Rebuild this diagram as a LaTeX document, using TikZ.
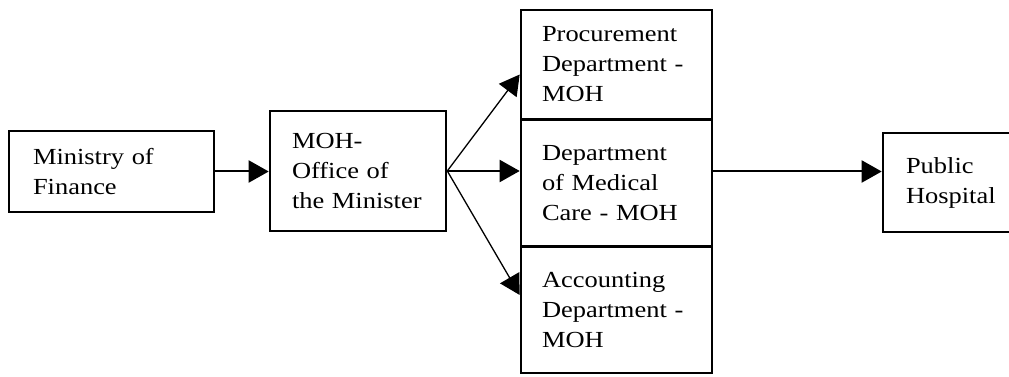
\documentclass[tikz,border=0pt]{standalone}
\usepackage{fontspec}
\setmainfont{Liberation Serif}[FakeStretch=1.15]
\usetikzlibrary{positioning,calc,arrows.meta}

\begin{document}
\begin{tikzpicture}[x=1pt, y=1pt,
		box/.style={draw, line width=2.6pt, align=left, inner ysep=2pt,
			font=\fontsize{23}{30}\selectfont},
		arr/.style={line width=2pt, -{Triangle[length=20pt,width=22pt]}},
		fan/.style={line width=1.3pt, -{Triangle[length=20pt,width=22pt]}}]
		\clip (0,0) rectangle (1009,377);
		\node[box, inner xsep=24pt, text width=157pt, minimum height=81pt] (fin) at (111.5,205.5) {Ministry of\\Finance};
		\node[box, inner xsep=22pt, text width=132pt, minimum height=120pt] (off) at (358,206) {MOH-\\Office of\\the Minister};
		\node[box, inner xsep=21pt, text width=149pt, minimum height=109pt] (proc) at (616.5,312.5) {Procurement\\Department -\\MOH};
		\node[box, inner xsep=21pt, text width=149pt, minimum height=126pt] (med) at (616.5,194) {Department\\of Medical\\Care - MOH};
		\node[box, inner xsep=21pt, text width=149pt, minimum height=126pt] (acc) at (616.5,67) {Accounting\\Department -\\MOH};
		\node[box, inner xsep=23pt, text width=96pt, minimum height=99pt] (hosp) at (954,194.5) {Public\\Hospital};
		\draw[arr] (fin.east) -- (off.west |- fin.east);
		\draw[arr] (off.east) -- (med.west |- off.east);
		\draw[fan] (off.east) -- ([yshift=-10pt]proc.west);
		\draw[fan] (off.east) -- ([yshift=15pt]acc.west);
		\draw[arr] (med.east |- fin.east) -- (hosp.west |- fin.east);
	\end{tikzpicture}
\end{document}
